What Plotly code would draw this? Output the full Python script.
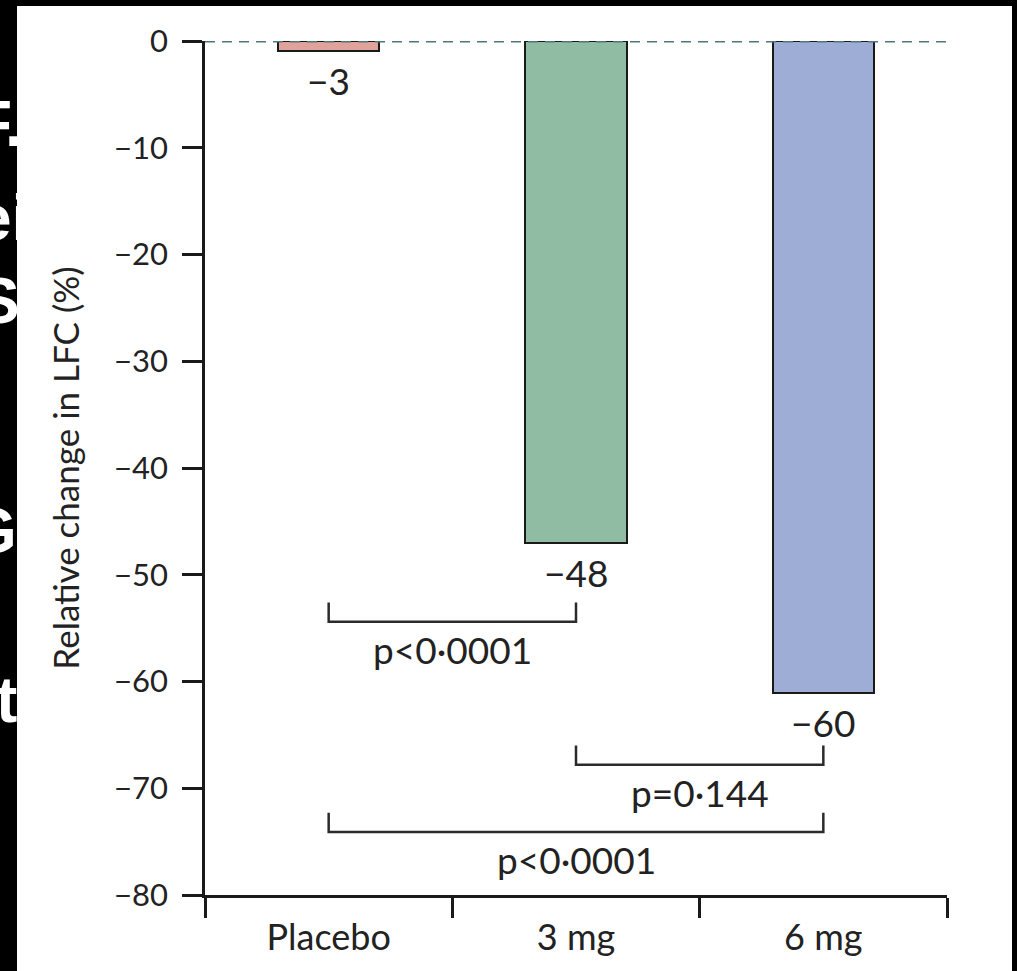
import plotly.graph_objects as go

# ---------------- data ----------------
categories = ["Placebo", "3 mg", "6 mg"]
bar_values = [-0.9, -47.0, -61.1]
bar_labels = ["\u22123", "\u221248", "\u221260"]
bar_colors = ["#e0a39c", "#8fbca3", "#9eadd5"]

y_ticks = [0, -10, -20, -30, -40, -50, -60, -70, -80]

cmp_from = [0, 1, 0]
cmp_to = [1, 2, 2]
cmp_level = [-54.4, -67.8, -74.1]
cmp_text = ["p<0\u00b70001", "p=0\u00b7144", "p<0\u00b70001"]

side_text = ["F.", "ei", "S", "G", "th"]

# ---------------- layout constants ----------------
W, H = 1017, 971
L, R, T, B = 205, 70, 41, 76
PW, PH = W - L - R, H - T - B
FONT = "Lato"
TXT = "#222222"


def px_x(px):
    return (px - L) / PW


def px_y(py):
    return (H - B - py) / PH


xpos = [i + 0.5 for i in range(len(categories))]

fig = go.Figure()

fig.add_trace(go.Bar(
    x=xpos, y=bar_values, width=0.41,
    marker=dict(color=bar_colors, line=dict(color="#1a1a1a", width=2)),
    cliponaxis=False, showlegend=False, hoverinfo="skip",
))

# significance brackets
tick_h = 1.8
for a, b, lvl in zip(cmp_from, cmp_to, cmp_level):
    fig.add_trace(go.Scatter(
        x=[xpos[a], xpos[a], xpos[b], xpos[b]],
        y=[lvl + tick_h, lvl, lvl, lvl + tick_h],
        mode="lines", line=dict(color="#2b2b2b", width=2.5),
        showlegend=False, hoverinfo="skip", cliponaxis=False,
    ))

annotations = []
for xp, v, t in zip(xpos, bar_values, bar_labels):
    annotations.append(dict(x=xp, y=v, xref="x", yref="y", text=t, showarrow=False,
                            yanchor="top", yshift=-5,
                            font=dict(family=FONT, size=37, color=TXT)))
for a, b, lvl, t in zip(cmp_from, cmp_to, cmp_level, cmp_text):
    annotations.append(dict(x=(xpos[a] + xpos[b]) / 2, y=lvl, xref="x", yref="y", text=t,
                            showarrow=False, yanchor="top", yshift=-3,
                            font=dict(family=FONT, size=37, color=TXT)))

# partially hidden side text on the black strip
side_left = [-29, -26, -25, -35, -6]
side_mid = [124, 218, 301, 531, 700]
for t, lx, my in zip(side_text, side_left, side_mid):
    annotations.append(dict(x=px_x(lx), y=px_y(my), xref="paper", yref="paper", text="<b>%s</b>" % t,
                            showarrow=False, xanchor="left", yanchor="middle",
                            font=dict(family="Liberation Sans", size=64, color="white")))

shapes = [
    # white card
    dict(type="rect", xref="paper", yref="paper",
         x0=px_x(17), x1=px_x(1012), y0=px_y(H + 5), y1=px_y(6),
         fillcolor="white", line=dict(width=0), layer="below"),
    # zero reference line
    dict(type="line", xref="paper", yref="y", x0=0, x1=px_x(948), y0=0, y1=0,
         line=dict(color="#4f767c", width=3, dash="10px,7px"), layer="above"),
]

fig.update_layout(
    width=W, height=H,
    margin=dict(l=L, r=R, t=T, b=B, pad=0, autoexpand=False),
    paper_bgcolor="black", plot_bgcolor="white",
    annotations=annotations, shapes=shapes,
    bargap=0,
)

fig.update_xaxes(
    range=[0, len(categories)], showgrid=False, zeroline=False, automargin=False,
    showline=True, linecolor="#1a1a1a", linewidth=2.5,
    tickmode="array", tickvals=xpos, ticktext=categories,
    ticks="outside", ticklen=9, tickcolor="rgba(0,0,0,0)",
    tickfont=dict(family=FONT, size=36, color=TXT),
    minor=dict(tick0=0, dtick=1, ticks="outside", ticklen=20, tickwidth=2.5,
               tickcolor="#1a1a1a", showgrid=False),
)

fig.update_yaxes(
    range=[-80, 0], showgrid=False, zeroline=False, automargin=False,
    showline=True, linecolor="#1a1a1a", linewidth=2.5,
    tickmode="array", tickvals=y_ticks,
    ticks="outside", ticklen=20, tickwidth=2.5, tickcolor="#1a1a1a",
    ticklabelstandoff=8,
    tickfont=dict(family=FONT, size=31, color=TXT),
    title=dict(text="Relative change in LFC (%)", standoff=24,
               font=dict(family=FONT, size=35, color=TXT)),
)

fig.write_html(
    "out.html",
    config={"displayModeBar": False},
    post_script="document.body.style.margin='0';document.body.style.background='black';",
)
